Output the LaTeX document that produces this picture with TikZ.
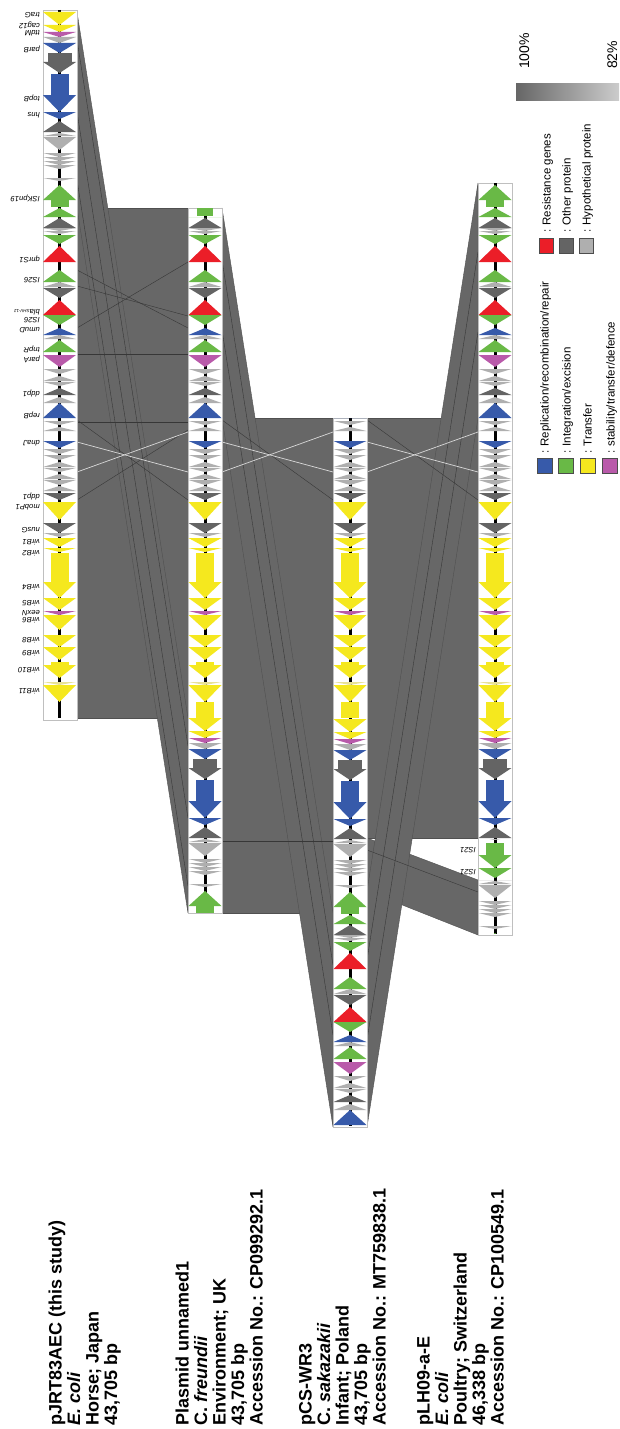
\documentclass[tikz,border=0pt]{standalone}
\usepackage{fontspec}
\setmainfont{Liberation Sans}
\definecolor{cY}{RGB}{245,232,30}
\definecolor{cLY}{RGB}{232,226,150}
\definecolor{cM}{RGB}{185,90,170}
\definecolor{cB}{RGB}{55,90,170}
\definecolor{cN}{RGB}{105,185,70}
\definecolor{cR}{RGB}{235,30,40}
\definecolor{cG}{RGB}{100,100,100}
\definecolor{cL}{RGB}{175,175,175}
\definecolor{blkgray}{RGB}{103,103,103}
\definecolor{blkedge}{RGB}{80,80,80}
\definecolor{lnc}{RGB}{55,55,55}
\newcommand\gD[3]{\fill[#3] (\gx-16.5,#1+\gs) -- (\gx+16.5,#1+\gs) -- (\gx,#2+\gs) -- cycle;}
\newcommand\gU[3]{\fill[#3] (\gx-16.5,#2+\gs) -- (\gx+16.5,#2+\gs) -- (\gx,#1+\gs) -- cycle;}
\newcommand\gAD[4]{\fill[#4] (\gx-9,#1+\gs) rectangle (\gx+9,#2+\gs); \fill[#4] (\gx-16.5,#2+\gs) -- (\gx+16.5,#2+\gs) -- (\gx,#3+\gs) -- cycle;}
\newcommand\gAW[4]{\fill[#4] (\gx-12,#1+\gs) rectangle (\gx+12,#2+\gs); \fill[#4] (\gx-16.5,#2+\gs) -- (\gx+16.5,#2+\gs) -- (\gx,#3+\gs) -- cycle;}
\newcommand\gAU[4]{\fill[#4] (\gx,#1+\gs) -- (\gx+16.5,#2+\gs) -- (\gx-16.5,#2+\gs) -- cycle; \fill[#4] (\gx-9,#2+\gs) rectangle (\gx+9,#3+\gs);}
\newcommand\trackone{%
\gD{12}{25}{cY}\gD{25}{32}{cY}\gD{32}{37}{cM}\gD{37}{43}{cL}\gD{43}{53}{cB}
\gAW{53}{62}{73}{cG}\gAD{74}{95}{112}{cB}\gD{112}{119}{cB}\gU{121}{132}{cG}
\gU{133}{136}{cL}\gD{137}{150}{cL}\gD{153}{157}{cL}\gD{157}{161}{cL}\gD{161}{165}{cL}\gD{165}{169}{cL}
\gD{178}{181}{cL}\gAU{185}{200}{207}{cN}\gU{208}{217}{cN}\gU{218}{228}{cG}
\gD{228}{231}{cL}\gD{231}{234}{cL}\gD{235}{244}{cN}\gU{246}{262}{cR}\gU{270}{282}{cN}
\gU{282}{287}{cL}\gD{288}{298}{cG}\gU{300}{315}{cR}\gD{315}{325}{cN}\gU{328}{335}{cB}
\gU{335}{339}{cL}\gU{340}{352}{cN}\gD{355}{367}{cM}\gD{369}{374}{cL}\gU{376}{381}{cL}
\gD{382}{386}{cL}\gU{388}{395}{cG}\gU{397}{403}{cL}\gU{403}{418}{cB}\gD{421}{425}{cL}
\gU{427}{431}{cL}\gD{441}{448}{cB}\gD{449}{454}{cL}\gD{455}{460}{cL}\gU{462}{467}{cL}
\gD{468}{472}{cL}\gU{474}{479}{cL}\gD{480}{485}{cL}\gU{486}{491}{cL}\gD{493}{500}{cG}
\gD{502}{520}{cY}\gD{523}{533}{cG}\gD{533}{537}{cL}\gD{538}{547}{cY}\gD{548}{552}{cY}
\gAD{553}{582}{598}{cY}\gD{598}{610}{cY}\gD{611}{615}{cM}\gD{615}{630}{cY}
\gD{635}{647}{cY}\gD{647}{660}{cY}\gAD{662}{665}{678}{cY}\gD{682}{685}{cLY}\gD{685}{702}{cY}}
\tikzset{
 blk/.style={fill=blkgray, draw=blkedge, line width=0.4pt},
 ln/.style={draw=lnc, line width=0.4pt},
 wln/.style={draw=white!85!black, line width=0.7pt},
 trackbox/.style={fill=white, draw=black!25, line width=0.5pt},
 backbone/.style={line width=3pt, black},
 glab/.style={rotate=180, anchor=west, inner sep=0pt, font=\fontsize{7.6}{8.5}\selectfont\itshape},
 lab/.style={rotate=90, anchor=base west, inner sep=0pt, font=\fontsize{18}{20}\selectfont\bfseries},
 leg/.style={rotate=90, anchor=base west, inner sep=0pt, font=\fontsize{11.5}{13}\selectfont},
 pct/.style={rotate=90, anchor=base west, inner sep=0pt, font=\fontsize{14}{16}\selectfont},
 legbox/.style={draw=black!70, line width=0.6pt}
}
\begin{document}
\begin{tikzpicture}[x=1pt,y=-1pt]
\useasboundingbox (0,0) rectangle (620,1429);
\fill[white] (0,0) rectangle (620,1429);
% ---- comparison blocks ----
\path[blk] (77,208) rectangle (188,718);
\path[blk] (77,12) -- (188,718) -- (188,913) -- (77,208) -- cycle;
\path[blk] (222,418) rectangle (333,913);
\path[blk] (222,208) -- (333,913) -- (333,1127) -- (222,418) -- cycle;
\path[blk] (367,418) rectangle (478,838);
\path[blk] (367,838) -- (478,880) -- (478,935) -- (367,891) -- cycle;
\path[blk] (367,891) -- (478,183) -- (478,418) -- (367,1127) -- cycle;
% ---- internal lines ----
\draw[ln] (77,40) -- (188,746);
\draw[ln] (77,112) -- (188,818);
\draw[ln] (77,180) -- (188,886);
\draw[ln] (77,270) -- (188,328);
\draw[ln] (77,328) -- (188,262);
\draw[ln] (77,286) -- (188,316);
\draw[ln] (77,354) -- (188,354);
\draw[ln] (77,422) -- (188,422);
\draw[ln] (77,420) -- (188,500);
\draw[ln] (77,500) -- (188,430);
\draw[wln] (77,442) -- (188,472);
\draw[wln] (77,472) -- (188,432);
\draw[ln] (222,260) -- (333,965);
\draw[ln] (222,330) -- (333,1035);
\draw[ln] (222,420) -- (333,500);
\draw[ln] (222,841) -- (333,841);
\draw[wln] (222,442) -- (333,472);
\draw[wln] (222,472) -- (333,432);
\draw[ln] (367,960) -- (478,252);
\draw[ln] (367,1040) -- (478,332);
\draw[ln] (367,420) -- (478,500);
\draw[ln] (367,850) -- (478,892);
\draw[wln] (367,442) -- (478,472);
\draw[wln] (367,472) -- (478,432);
% ---- track boxes and backbones ----
\path[trackbox] (43,10) rectangle (77,720);
\path[trackbox] (188,208) rectangle (222,913);
\path[trackbox] (333,418) rectangle (367,1127);
\path[trackbox] (478,183) rectangle (512,935);
\draw[backbone] (59.5,10) -- (59.5,718);
\draw[backbone] (205,208) -- (205,913);
\draw[backbone] (350,418) -- (350,1126);
\draw[backbone] (495,183) -- (495,934);
% ---- genes: track 1 ----
\def\gx{59.5}\def\gs{0}\trackone
% ---- track 2 ----
\begin{scope}\clip (186,217) rectangle (224,718);\def\gx{205}\def\gs{0}\trackone\end{scope}
\fill[cN] (197,208) rectangle (213,216);
\fill[cY] (196,702) rectangle (214,718);
\begin{scope}\clip (186,718) rectangle (224,913);\def\gx{205}\def\gs{706}\trackone\end{scope}
% ---- track 3 ----
\begin{scope}\clip (331,418) rectangle (369,718);\def\gx{350}\def\gs{0}\trackone\end{scope}
\fill[cY] (341,702) rectangle (359,718);
\begin{scope}\clip (331,718) rectangle (369,1127);\def\gx{350}\def\gs{707}\trackone\end{scope}
% ---- track 4 ----
\begin{scope}\clip (476,183) rectangle (514,718);\def\gx{495}\def\gs{0}\trackone\end{scope}
\fill[cY] (486,702) rectangle (504,718);
\begin{scope}\clip (476,718) rectangle (514,839);\def\gx{495}\def\gs{706}\trackone\end{scope}
\def\gx{495}\def\gs{0}\gAD{843}{855}{868}{cN}\gD{868}{878}{cN}
\begin{scope}\clip (476,880) rectangle (514,933);\def\gx{495}\def\gs{748}\trackone\end{scope}
% ---- gene labels ----
\node[glab] (g1) at (40,15) {traG};
\node[glab] (g2) at (40,25) {cag12};
\node[glab] (g3) at (40,33) {ttdM};
\node[glab] (g4) at (40,49) {parB};
\node[glab] (g5) at (40,98) {topB};
\node[glab] (g6) at (40,115) {hns};
\node[glab] (g7) at (40,198) {ISKpn19};
\node[glab] (g8) at (40,259) {qnrS1};
\node[glab] (g9) at (40,280) {IS26};
\node[glab] (g10) at (40,312) {bla{\fontsize{4.5}{5}\selectfont SHV-12}};
\node[glab] (g11) at (40,320) {IS26};
\node[glab] (g12) at (40,330) {umuD};
\node[glab] (g13) at (40,349) {tnpR};
\node[glab] (g14) at (40,359) {parA};
\node[glab] (g15) at (40,393) {ddp1};
\node[glab] (g16) at (40,415) {repB};
\node[glab] (g17) at (40,443) {dnaJ};
\node[glab] (g18) at (40,496) {ddp1};
\node[glab] (g19) at (40,507) {mobP1};
\node[glab] (g20) at (40,530) {nusG};
\node[glab] (g21) at (40,542) {virB1};
\node[glab] (g22) at (40,553) {virB2};
\node[glab] (g23) at (40,587) {virB4};
\node[glab] (g24) at (40,603) {virB5};
\node[glab] (g25) at (40,613) {eexN};
\node[glab] (g26) at (40,620) {virB6};
\node[glab] (g27) at (40,640) {virB8};
\node[glab] (g28) at (40,653) {virB9};
\node[glab] (g29) at (40,670) {virB10};
\node[glab] (g30) at (40,691) {virB11};
\node[glab] (g31) at (476,850) {IS21};
\node[glab] (g32) at (476,872) {IS21};
% ---- plasmid labels ----
\node[lab] (a1) at (61.5,1426) {pJRT83AEC (this study)};
\node[lab] (a2) at (80,1426) {\itshape E. coli};
\node[lab] (a3) at (98.5,1426) {Horse; Japan};
\node[lab] (a4) at (117,1426) {43,705 bp};
\node[lab] (b1) at (188.5,1426) {Plasmid unnamed1};
\node[lab] (b2) at (207,1426) {C. \itshape freundii};
\node[lab] (b3) at (225.5,1426) {Environment; UK};
\node[lab] (b4) at (244,1426) {43,705 bp};
\node[lab] (b5) at (262.5,1426) {Accession No.: CP099292.1};
\node[lab] (c1) at (311.5,1426) {pCS-WR3};
\node[lab] (c2) at (330,1426) {C. \itshape sakazakii};
\node[lab] (c3) at (348.5,1426) {Infant; Poland};
\node[lab] (c4) at (367,1426) {43,705 bp};
\node[lab] (c5) at (385.5,1426) {Accession No.: MT759838.1};
\node[lab] (d1) at (429.5,1426) {pLH09-a-E};
\node[lab] (d2) at (448,1426) {\itshape E. coli};
\node[lab] (d3) at (466.5,1426) {Poultry; Switzerland};
\node[lab] (d4) at (485,1426) {46,338 bp};
\node[lab] (d5) at (503.5,1426) {Accession No.: CP100549.1};
% ---- legend ----
\shade[left color=black!60, right color=black!20] (516,83) rectangle (619,100);
\node[pct] (p1) at (529,69) {100\%};
\node[pct] (p2) at (617,69) {82\%};
\filldraw[legbox, fill=cR] (539,238) rectangle (553,253);
\filldraw[legbox, fill=cG] (559,238) rectangle (573,253);
\filldraw[legbox, fill=cL] (579,238) rectangle (593,253);
\node[leg] (r1) at (550.5,233) {: Resistance genes};
\node[leg] (r2) at (570.5,233) {: Other protein};
\node[leg] (r3) at (590.5,233) {: Hypothetical protein};
\filldraw[legbox, fill=cB] (537.5,458) rectangle (552,473);
\filldraw[legbox, fill=cN] (558.5,458) rectangle (573,473);
\filldraw[legbox, fill=cY] (580.5,458) rectangle (595,473);
\filldraw[legbox, fill=cM] (602.5,458) rectangle (617,473);
\node[leg] (s1) at (548.5,454) {: Replication/recombination/repair};
\node[leg] (s2) at (570.5,454) {: Integration/excision};
\node[leg] (s3) at (591.5,454) {: Transfer};
\node[leg] (s4) at (614.5,454) {: stability/transfer/defence};
\end{tikzpicture}
\end{document}
